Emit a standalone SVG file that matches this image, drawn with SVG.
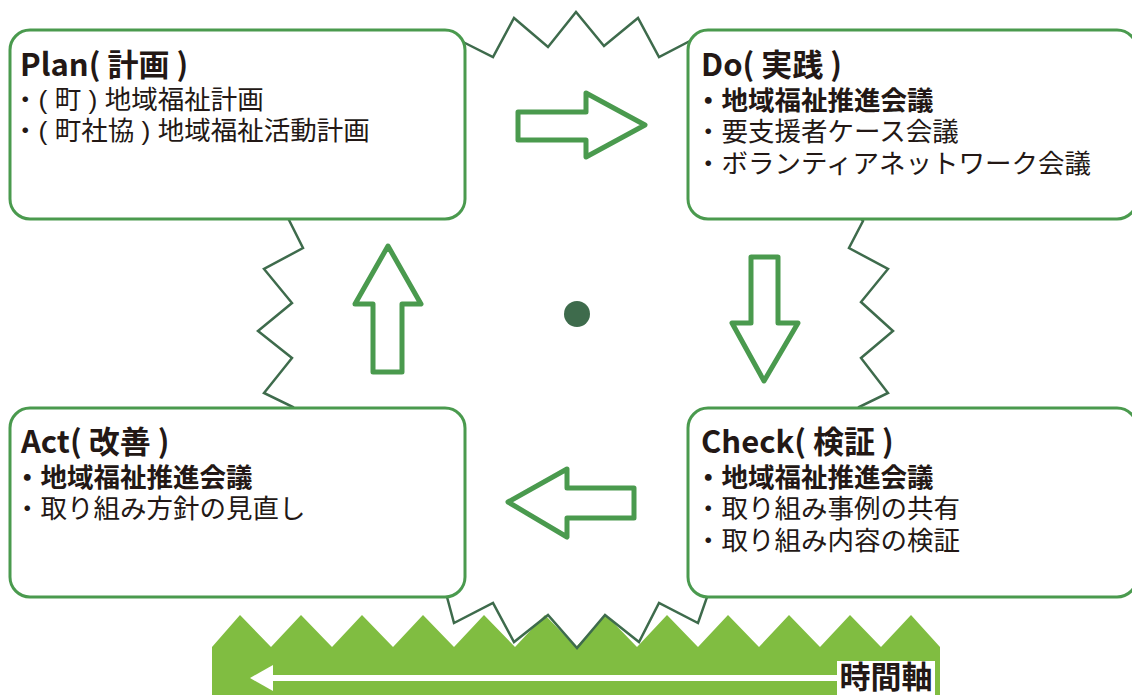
<svg xmlns="http://www.w3.org/2000/svg" width="1132" height="695" viewBox="0 0 1132 695">
<style>
.box{fill:#fff;stroke:#4a9a4e;stroke-width:3}
.arr{fill:#fff;stroke:#4a9a4e;stroke-width:5;stroke-linejoin:round}
.burst{fill:none;stroke:#3e6b4c;stroke-width:2.5;stroke-linejoin:miter}
.t{fill:#231815}
.title{font-family:"Noto Sans CJK JP","Noto Sans",sans-serif;font-size:31px;font-weight:bold}
.body{font-family:"Liberation Sans","Noto Sans CJK JP",sans-serif;font-size:26.5px}
.b{font-weight:bold}
.axis{font-family:"Liberation Sans","Noto Sans CJK JP",sans-serif;font-size:31px;font-weight:bold}
</style>
<rect width="1132" height="695" fill="#fff"/>
<g id="timeband">
<polygon fill="#80bd41" points="212,647 240,615 271,647 301,615 332,647 362,615 393,647 423,615 454,647 484,615 515,647 545,615 576,647 606,615 637,647 667,615 698,647 728,615 759,647 789,615 820,647 850,615 881,647 911,615 940,647 940,695 212,695"/>
<line x1="268" y1="678" x2="840" y2="678" stroke="#fff" stroke-width="6"/>
<polygon fill="#fff" points="250,678 273,665 273,691"/>
<rect x="837" y="661" width="98" height="34" fill="#fff"/>
<text class="t axis" x="886" y="688" text-anchor="middle">時間軸</text>
</g>
<g id="burst">
<polygon class="burst" points="463,42 493,57 514,18 548,47 576,12 604,46 638,18 659,57 690,41 863,221 849,248 888,269 861,302 893,331 861,358 888,393 859,407 707,597 698,623 659,603 639,642 605,615 577,648 548,615 514,642 493,603 454,623 447,597 293,407 264,393 292,358 258,331 292,303 264,269 303,248 289,220"/>
<circle cx="577" cy="314" r="13" fill="#3e6b4c"/>
</g>
<g id="plan">
<rect class="box" x="10" y="30" width="455" height="189" rx="20"/>
<text class="t title" x="20" y="75.5">Plan( 計画 )</text>
<text class="t body" x="12" y="109">・( 町 ) 地域福祉計画</text>
<text class="t body" x="12" y="140">・( 町社協 ) 地域福祉活動計画</text>
</g>
<g id="do">
<rect class="box" x="688" y="30" width="449" height="189" rx="20"/>
<text class="t title" x="701" y="75.5">Do( 実践 )</text>
<text class="t body b" x="695" y="109.5">・地域福祉推進会議</text>
<text class="t body" x="695" y="141">・要支援者ケース会議</text>
<text class="t body" x="695" y="173">・ボランティアネットワーク会議</text>
</g>
<g id="act">
<rect class="box" x="10" y="408" width="455" height="189" rx="20"/>
<text class="t title" x="21" y="452.5">Act( 改善 )</text>
<text class="t body b" x="14" y="486.5">・地域福祉推進会議</text>
<text class="t body" x="14" y="518">・取り組み方針の見直し</text>
</g>
<g id="check">
<rect class="box" x="688" y="408" width="449" height="189" rx="20"/>
<text class="t title" x="701" y="452.5">Check( 検証 )</text>
<text class="t body b" x="695" y="486.5">・地域福祉推進会議</text>
<text class="t body" x="695" y="518">・取り組み事例の共有</text>
<text class="t body" x="695" y="550">・取り組み内容の検証</text>
</g>
<g id="connectors">
<polygon class="arr" points="518,112 586,112 586,93 645,125 586,157 586,140 518,140"/>
<polygon class="arr" points="751,257 778,257 778,323 798,323 764,381 732,323 751,323"/>
<polygon class="arr" points="634,488 567,488 567,469 508,502 567,537 567,518 634,518"/>
<polygon class="arr" points="388,246 421,304 402,304 402,372 373,372 373,304 355,304"/>
</g>
</svg>
